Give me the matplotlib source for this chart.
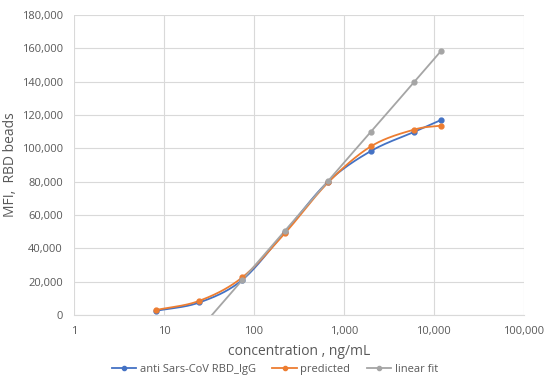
import numpy as np
import matplotlib
matplotlib.use("Agg")
import matplotlib.pyplot as plt
from matplotlib.ticker import FuncFormatter, FixedLocator

conc = [8.2, 24.7, 74, 222, 667, 2000, 6000, 12000]
measured = [2500, 7500, 21000, 50000, 80000, 98400, 109800, 117000]
predicted = [3000, 8500, 22500, 49200, 79500, 101200, 111200, 113600]
linear_fit = [-38500, -8800, 20900, 50600, 80500, 110000, 139600, 158400]
series_names = ["anti Sars-CoV RBD_IgG", "predicted", "linear fit"]
colors = ["#4472C4", "#ED7D31", "#A5A5A5"]

plt.rcParams['font.family'] = ['Open Sans', 'DejaVu Sans']

def smooth(xs, ys, n=30):
    # Catmull-Rom through points in (log10 x, y/scale) space
    lx = np.log10(xs)
    sy = np.array(ys, dtype=float) / 40000.0
    P = np.column_stack([lx, sy])
    P = np.vstack([P[0] - (P[1] - P[0]), P, P[-1] + (P[-1] - P[-2])])
    out = []
    for i in range(1, len(P) - 2):
        p0, p1, p2, p3 = P[i - 1], P[i], P[i + 1], P[i + 2]
        t = np.linspace(0, 1, n)[:, None]
        seg = 0.5 * ((2 * p1) + (-p0 + p2) * t + (2 * p0 - 5 * p1 + 4 * p2 - p3) * t**2
                     + (-p0 + 3 * p1 - 3 * p2 + p3) * t**3)
        out.append(seg if i == 1 else seg[1:])
    out = np.vstack(out)
    return 10 ** out[:, 0], out[:, 1] * 40000.0

fig = plt.figure(figsize=(5.5, 3.84), dpi=100)
ax = fig.add_axes([0.1345, 0.1797, 0.818, 0.7813])
ax.set_xscale('log')
ax.set_xlim(1, 100000)
ax.set_ylim(0, 180000)

for vals, name, c in zip([measured, predicted, linear_fit], series_names, colors):
    sx, sy = smooth(conc, vals)
    ax.plot(sx, sy, color=c, lw=1.3, zorder=3)
    ax.plot(conc, vals, 'o', color=c, ms=3.5, zorder=4)
    ax.plot([], [], '-o', color=c, lw=1.3, ms=3, label=name)

ax.xaxis.set_major_locator(FixedLocator([1, 10, 100, 1000, 10000, 100000]))
ax.xaxis.set_minor_locator(FixedLocator([]))
ax.xaxis.set_major_formatter(FuncFormatter(lambda v, p: f"{int(round(v)):,}"))
ax.yaxis.set_major_locator(FixedLocator(np.arange(0, 180001, 20000)))
ax.yaxis.set_major_formatter(FuncFormatter(lambda v, p: f"{int(round(v)):,}"))

ax.grid(True, color='#D9D9D9', lw=0.8)
ax.set_axisbelow(True)
for s in ['top', 'right', 'left']:
    ax.spines[s].set_visible(False)
ax.spines['bottom'].set_color('#D9D9D9')
ax.tick_params(length=0, colors='#595959', labelsize=8, pad=8)

ax.set_xlabel("concentration , ng/mL", color='#595959', fontsize=10, labelpad=5)
ax.set_ylabel("MFI,  RBD beads", color='#595959', fontsize=10)
ax.yaxis.set_label_coords(-0.125, 0.5)

leg = fig.legend(loc='center', bbox_to_anchor=(0.5, 0.037), ncol=3, frameon=False,
                 fontsize=8, handlelength=2.2, columnspacing=1.5, handletextpad=0.3)
for t in leg.get_texts():
    t.set_color('#595959')

fig.savefig("out.png", dpi=100)
